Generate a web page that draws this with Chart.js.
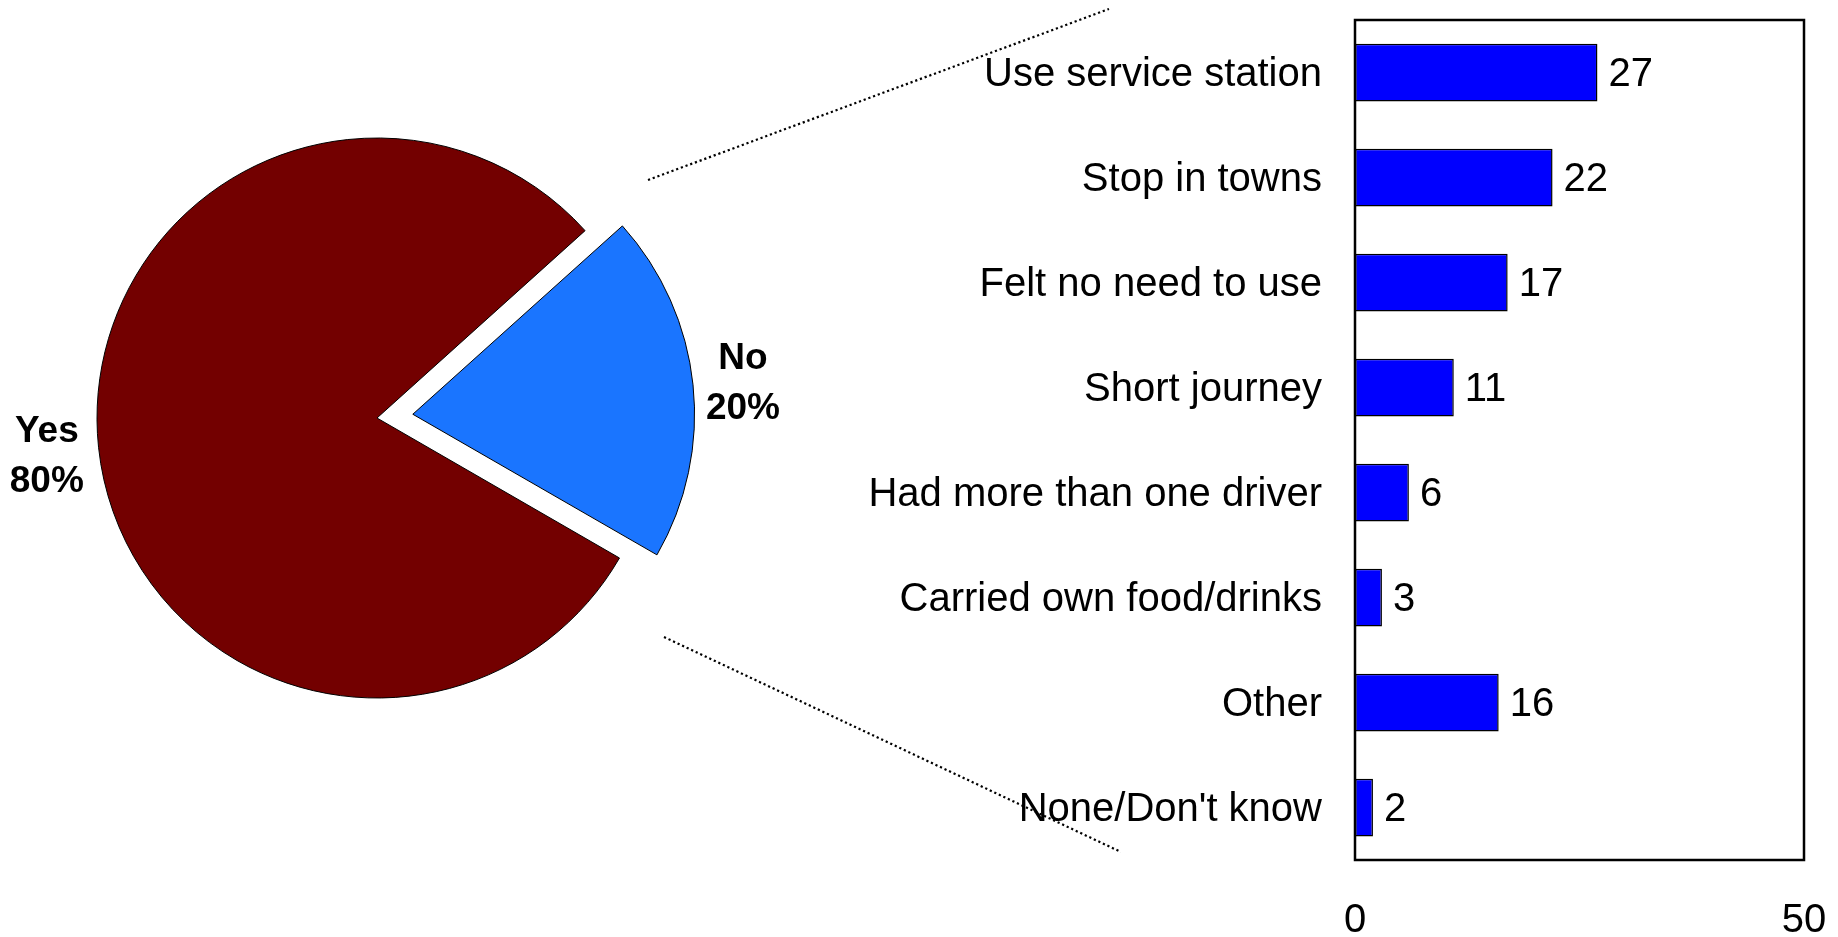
<!DOCTYPE html>
<html>
<head>
<meta charset="utf-8">
<title>Reasons for not using rest areas</title>
<script src="https://cdn.jsdelivr.net/npm/chart.js@4.4.1/dist/chart.umd.min.js"></script>
<style>
  html, body { margin: 0; padding: 0; background: #fff; overflow: hidden; }
  #wrap { position: relative; width: 1838px; height: 937px; }
  canvas { position: absolute; left: 0; top: 0; }
</style>
</head>
<body>
<div id="wrap">
  <canvas id="pieChart" width="900" height="937"></canvas>
  <canvas id="barChart" width="1838" height="937"></canvas>
</div>
<script>
// pie: did the driver stop?
var pieLabels = ["Yes", "No"];
var pieValues = [80, 20];
var pieColors = ["#730000", "#1a75ff"];

// bar: reasons given by those who said no
var reasons = [
  "Use service station",
  "Stop in towns",
  "Felt no need to use",
  "Short journey",
  "Had more than one driver",
  "Carried own food/drinks",
  "Other",
  "None/Don't know"
];
var reasonCounts = [27, 22, 17, 11, 6, 3, 16, 2];
var axisTicks = [0, 50];

Chart.defaults.font.family = "'Liberation Sans', Arial, Helvetica, sans-serif";
Chart.defaults.color = "#000";

// "Yes / 80%" style labels just outside each slice
var pieLabelPlugin = {
  id: "pieLabels",
  afterDatasetsDraw: function (chart) {
    var ctx = chart.ctx;
    var meta = chart.getDatasetMeta(0);
    var total = pieValues.reduce(function (a, b) { return a + b; }, 0);
    ctx.save();
    ctx.font = "bold 37px 'Liberation Sans', Arial, sans-serif";
    ctx.fillStyle = "#000";
    ctx.textAlign = "center";
    ctx.textBaseline = "middle";
    meta.data.forEach(function (arc, i) {
      var p = arc.getProps(["x", "y", "startAngle", "endAngle", "outerRadius"], true);
      var mid = (p.startAngle + p.endAngle) / 2;
      var shift = (arc.options.offset || 0) / 4;
      var cx = p.x + Math.cos(mid) * shift;
      var cy = p.y + Math.sin(mid) * shift;
      var r = p.outerRadius + 52;
      var lx = cx + Math.cos(mid) * r;
      var ly = cy + Math.sin(mid) * r + 4;
      var pct = Math.round(pieValues[i] / total * 100) + "%";
      ctx.fillText(pieLabels[i], lx, ly - 25);
      ctx.fillText(pct, lx, ly + 25);
    });
    ctx.restore();
  }
};

new Chart("pieChart", {
  type: "pie",
  data: {
    labels: pieLabels,
    datasets: [{
      data: pieValues,
      backgroundColor: pieColors,
      borderColor: "#000",
      borderWidth: 1,
      offset: [0, 144],
      hoverOffset: 0
    }]
  },
  options: {
    responsive: false,
    animation: false,
    rotation: 120,
    layout: { padding: { left: 24.5, top: 65.5, right: 170.5, bottom: 166.5 } },
    plugins: {
      legend: { display: false },
      tooltip: { enabled: false }
    }
  },
  plugins: [pieLabelPlugin]
});

// box round the plot, value labels, and the dotted lines from the No slice
var barExtras = {
  id: "barExtras",
  afterDatasetsDraw: function (chart) {
    var ctx = chart.ctx;
    var meta = chart.getDatasetMeta(0);
    ctx.save();
    ctx.font = "40px 'Liberation Sans', Arial, sans-serif";
    ctx.fillStyle = "#000";
    ctx.textAlign = "left";
    ctx.textBaseline = "middle";
    meta.data.forEach(function (bar, i) {
      ctx.fillText(String(reasonCounts[i]), bar.x + 11, bar.y + 2);
    });
    ctx.restore();
  },
  afterDraw: function (chart) {
    var ctx = chart.ctx;
    var a = chart.chartArea;
    ctx.save();
    ctx.strokeStyle = "#000";
    ctx.lineWidth = 2.5;
    ctx.strokeRect(a.left, a.top, a.right - a.left, a.bottom - a.top);

    ctx.lineWidth = 2.2;
    ctx.setLineDash([2.2, 2.8]);
    ctx.beginPath();
    ctx.moveTo(648, 180);
    ctx.lineTo(1109, 9);
    ctx.moveTo(664, 637);
    ctx.lineTo(1121, 852);
    ctx.stroke();
    ctx.restore();
  }
};

// keep the plot box where the layout padding puts it
function noScalePadding(scale) {
  scale.paddingTop = 0;
  scale.paddingBottom = 0;
  scale.paddingLeft = 0;
  scale.paddingRight = 0;
}

new Chart("barChart", {
  type: "bar",
  data: {
    labels: reasons,
    datasets: [{
      data: reasonCounts,
      backgroundColor: "#0000ff",
      borderColor: "#000",
      borderWidth: 1.5,
      borderSkipped: false,
      categoryPercentage: 1,
      barPercentage: 0.55
    }]
  },
  options: {
    indexAxis: "y",
    responsive: false,
    animation: false,
    layout: { padding: { left: 0, top: 20, right: 34, bottom: 0 } },
    plugins: {
      legend: { display: false },
      tooltip: { enabled: false }
    },
    scales: {
      x: {
        min: 0,
        max: 50,
        grid: { display: false, drawTicks: false },
        border: { display: false },
        afterBuildTicks: function (scale) {
          scale.ticks = axisTicks.map(function (v) { return { value: v }; });
        },
        afterFit: function (scale) {
          scale.height = 77;
          noScalePadding(scale);
        },
        ticks: {
          padding: 37,
          maxRotation: 0,
          font: { size: 40 }
        }
      },
      y: {
        grid: { display: false, drawTicks: false },
        border: { display: false },
        afterFit: function (scale) {
          scale.width = 1355;
          noScalePadding(scale);
        },
        ticks: {
          padding: 33,
          labelOffset: 2,
          font: { size: 40 }
        }
      }
    }
  },
  plugins: [barExtras]
});
</script>
</body>
</html>
